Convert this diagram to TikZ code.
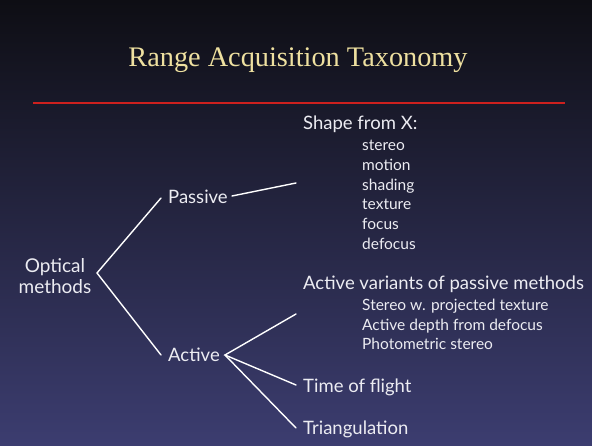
\documentclass[tikz,border=0pt]{standalone}
\usepackage{fontspec}
\setmainfont{Lato}
\newfontfamily\titlefont{Liberation Serif}
\definecolor{bgtop}{RGB}{14,14,20}
\definecolor{bgmid}{RGB}{34,35,62}
\definecolor{bgbot}{RGB}{60,61,112}
\definecolor{titlecol}{RGB}{238,224,160}
\definecolor{rulecol}{RGB}{205,32,30}
\definecolor{txt}{RGB}{236,236,242}
\begin{document}
\begin{tikzpicture}[x=1pt,y=-1pt,
  lbl/.style={font=\fontsize{18.5}{20}\selectfont, text=txt, inner sep=0pt, anchor=base west},
  sublbl/.style={font=\fontsize{15.5}{17}\selectfont, text=txt, inner sep=0pt, anchor=base west},
  link/.style={draw=white, line width=1.4pt, line cap=round}]
\shade[top color=bgtop, middle color=bgmid, bottom color=bgbot] (0,0) rectangle (592,446);
\useasboundingbox (0,0) rectangle (592,446);
% title
\node[font=\titlefont\fontsize{28.3}{32}\selectfont, text=titlecol, inner sep=0pt, anchor=base] (title) at (298,67) {Range Acquisition Taxonomy};
\draw[rulecol, line width=1.5pt] (33,103) -- (565,103);
% left tree
\node[font=\fontsize{19}{21}\selectfont, text=txt, inner sep=0pt, align=center, anchor=base] (optical) at (55,294) {Optical\\methods};
\node[lbl] (passive) at (168,204) {Passive};
\node[lbl] (active) at (168,362) {Active};
\coordinate (optapex) at (97,273);
\coordinate (passin) at (161,198);
\coordinate (actin) at (161,355);
\coordinate (passout) at (232,196);
\coordinate (shapein) at (296,183);
\coordinate (actapex) at (225,355);
\coordinate (varin) at (296,314);
\coordinate (tofin) at (296,385);
\coordinate (triin) at (296,428);
\draw[link] (passin) -- (optapex) -- (actin);
\draw[link] (passout) -- (shapein);
\draw[link] (varin) -- (actapex) -- (tofin);
\draw[link] (actapex) -- (triin);
% right column
\node[lbl] (shape) at (303,130) {Shape from X:};
\node[sublbl] (s1) at (362,151) {stereo};
\node[sublbl] (s2) at (362,171) {motion};
\node[sublbl] (s3) at (362,191) {shading};
\node[sublbl] (s4) at (362,210) {texture};
\node[sublbl] (s5) at (362,230) {focus};
\node[sublbl] (s6) at (362,250) {defocus};
\node[lbl] (variants) at (303,290) {Active variants of passive methods};
\node[sublbl] (v1) at (362,311) {Stereo w. projected texture};
\node[sublbl] (v2) at (362,330.5) {Active depth from defocus};
\node[sublbl] (v3) at (362,350) {Photometric stereo};
\node[lbl] (tof) at (303,392) {Time of flight};
\node[lbl] (tri) at (303,435) {Triangulation};
\end{tikzpicture}
\end{document}
